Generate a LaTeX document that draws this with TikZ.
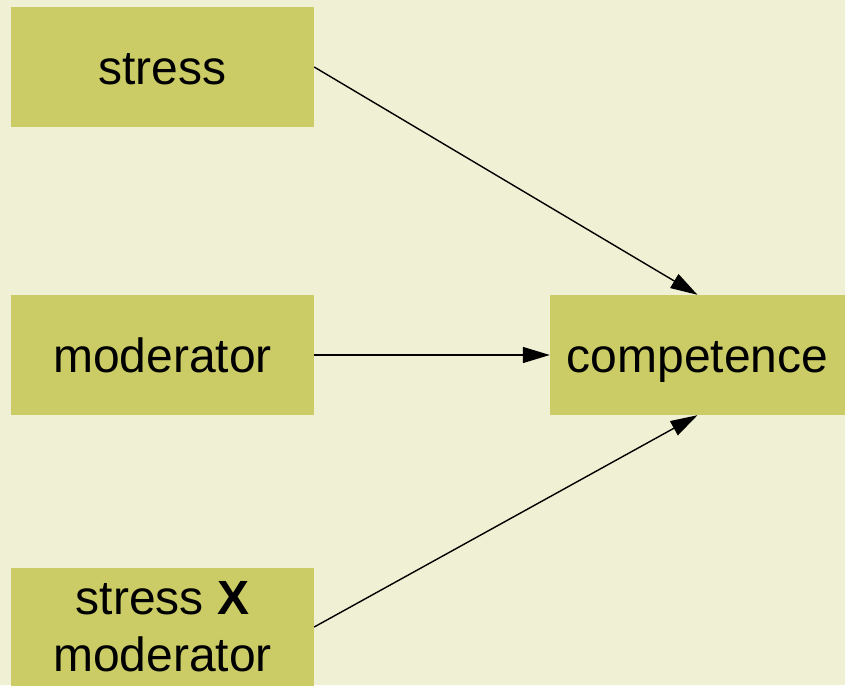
\documentclass[tikz,border=0pt]{standalone}
\usepackage{fontspec}
\setmainfont{Liberation Sans}
\usetikzlibrary{arrows.meta,positioning}
\definecolor{bgcream}{RGB}{240,240,212}
\definecolor{boxolive}{RGB}{204,204,102}

\begin{document}
\begin{tikzpicture}[x=1pt, y=-1pt,
		every node/.style={font=\fontsize{48}{57}\selectfont},
		varbox/.style={fill=boxolive, inner sep=0pt, minimum width=303pt, minimum height=120pt, align=center},
		oneline/.style={text height=40pt, text depth=6pt},
		link/.style={-{Triangle[length=27pt,width=16pt]}, line width=1.4pt}]
				\fill[bgcream] (0,0) rectangle (845,685);
				\useasboundingbox (0,0) rectangle (845,685);
				\node[varbox, oneline] (stress) at (162.5,67) {stress};
				\node[varbox, oneline] (moderator) at (162.5,355) {moderator};
				\node[varbox, minimum height=118pt] (inter) at (162.5,627) {stress \textbf{X}\\moderator};
				\node[varbox, oneline, minimum width=295pt] (competence) at (697.5,355) {competence};
				\draw[link] (stress.east) -- (competence.north);
				\draw[link] (moderator.east) -- (competence.west);
				\draw[link] (inter.east) -- (competence.south);
			\end{tikzpicture}
\end{document}
